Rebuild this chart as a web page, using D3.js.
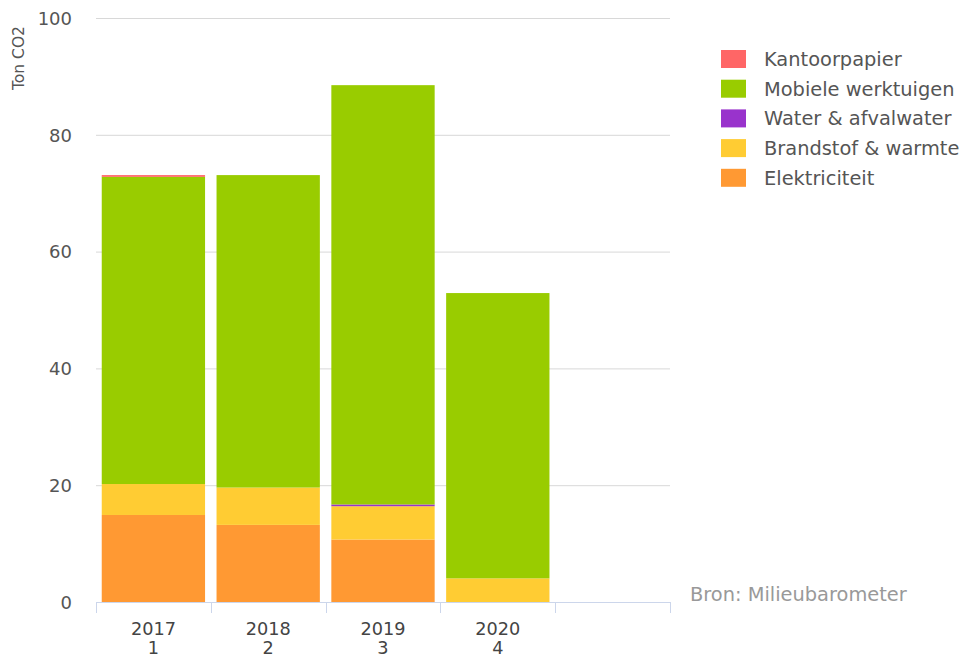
<!DOCTYPE html>
<html>
<head>
<meta charset="utf-8">
<script src="https://cdn.jsdelivr.net/npm/d3@7"></script>
<style>
  body { margin: 0; background: #fff; }
  text { font-family: "DejaVu Sans", sans-serif; }
</style>
</head>
<body>
<div id="chart"></div>
<script>
var width = 964
var height = 659

// categories (last one is an empty slot)
var years = ["2017", "2018", "2019", "2020", ""]
var periods = ["1", "2", "3", "4", ""]

// series, bottom to top
var elektriciteit = [14.9, 13.2, 10.7, 0, 0]
var brandstof = [5.3, 6.4, 5.7, 4.05, 0]
var water = [0, 0, 0.3, 0, 0]
var mobiele = [52.6, 53.5, 71.8, 48.85, 0]
var kantoorpapier = [0.3, 0, 0, 0, 0]

var seriesNames = ["Elektriciteit", "Brandstof & warmte", "Water & afvalwater", "Mobiele werktuigen", "Kantoorpapier"]
var seriesValues = [elektriciteit, brandstof, water, mobiele, kantoorpapier]
var colors = ["#ff9933", "#ffcc33", "#9933cc", "#99cc00", "#ff6666"]

var yTicks = [0, 20, 40, 60, 80, 100]

var margins = { left: 96, right: 294, top: 18, bottom: 57 }

var svg = d3.select("#chart").append("svg").attr("width", width).attr("height", height)

var x = d3.scaleBand()
    .domain(years.map((d, i) => i))
    .range([margins.left, width - margins.right])
    .paddingInner(0.1)
    .paddingOuter(0.05)

var y = d3.scaleLinear()
    .domain([0, 100])
    .range([height - margins.bottom, margins.top])

// grid lines
svg.append("g")
    .selectAll("line")
    .data(yTicks.slice(1))
    .enter()
    .append("line")
    .attr("x1", margins.left)
    .attr("x2", width - margins.right)
    .attr("y1", d => y(d) + 0.5)
    .attr("y2", d => y(d) + 0.5)
    .attr("stroke", "#d8d8d8")
    .attr("stroke-width", 1)

// y labels
svg.append("g")
    .selectAll("text")
    .data(yTicks)
    .enter()
    .append("text")
    .attr("x", 72)
    .attr("y", d => y(d))
    .attr("dy", "0.38em")
    .attr("text-anchor", "end")
    .attr("font-size", 18)
    .attr("fill", "#555")
    .text(d => d)

svg.append("text")
    .attr("transform", "translate(24,58) rotate(-90)")
    .attr("text-anchor", "middle")
    .attr("font-size", 15.5)
    .attr("fill", "#555")
    .text("Ton CO2")

// stacked bars
var table = years.map((yr, i) => {
    var row = { i: i }
    seriesNames.forEach((name, k) => { row[name] = seriesValues[k][i] })
    return row
})
var stacked = d3.stack().keys(seriesNames)(table)

svg.append("g")
    .selectAll("g")
    .data(stacked)
    .enter()
    .append("g")
    .attr("fill", (d, k) => colors[k])
    .selectAll("rect")
    .data(d => d.filter(p => p[1] - p[0] > 0))
    .enter()
    .append("rect")
    .attr("x", d => x(d.data.i))
    .attr("width", x.bandwidth())
    .attr("y", d => y(d[1]))
    .attr("height", d => y(d[0]) - y(d[1]))

// x axis
var base = y(0)
var axis = svg.append("g")
axis.append("line")
    .attr("x1", margins.left)
    .attr("x2", width - margins.right)
    .attr("y1", base + 0.5)
    .attr("y2", base + 0.5)
    .attr("stroke", "#ccd6eb")

var boundaries = d3.range(years.length + 1).map(i => margins.left + i * x.step())
axis.selectAll(".tick")
    .data(boundaries)
    .enter()
    .append("line")
    .attr("x1", d => Math.round(d) + 0.5)
    .attr("x2", d => Math.round(d) + 0.5)
    .attr("y1", base)
    .attr("y2", base + 11)
    .attr("stroke", "#ccd6eb")

var labels = axis.selectAll(".xlabel")
    .data(years)
    .enter()
    .append("text")
    .attr("text-anchor", "middle")
    .attr("font-size", 17.7)
    .attr("fill", "#444")
labels.append("tspan")
    .attr("x", (d, i) => x(i) + x.bandwidth() / 2)
    .attr("y", base + 33)
    .text(d => d)
labels.append("tspan")
    .attr("x", (d, i) => x(i) + x.bandwidth() / 2)
    .attr("y", base + 52)
    .text((d, i) => periods[i])

// legend, top series first
var legendItems = seriesNames.map((name, k) => ({ name: name, color: colors[k] })).reverse()
var legend = svg.append("g")
    .selectAll("g")
    .data(legendItems)
    .enter()
    .append("g")
    .attr("transform", (d, i) => "translate(721," + (50 + i * 29.7) + ")")
legend.append("rect")
    .attr("width", 25)
    .attr("height", 18)
    .attr("fill", d => d.color)
legend.append("text")
    .attr("x", 43)
    .attr("y", 9)
    .attr("dy", "0.36em")
    .attr("font-size", 19.4)
    .attr("fill", "#555")
    .text(d => d.name)

svg.append("text")
    .attr("x", 690)
    .attr("y", 601)
    .attr("font-size", 19.4)
    .attr("fill", "#999")
    .text("Bron: Milieubarometer")
</script>
</body>
</html>
